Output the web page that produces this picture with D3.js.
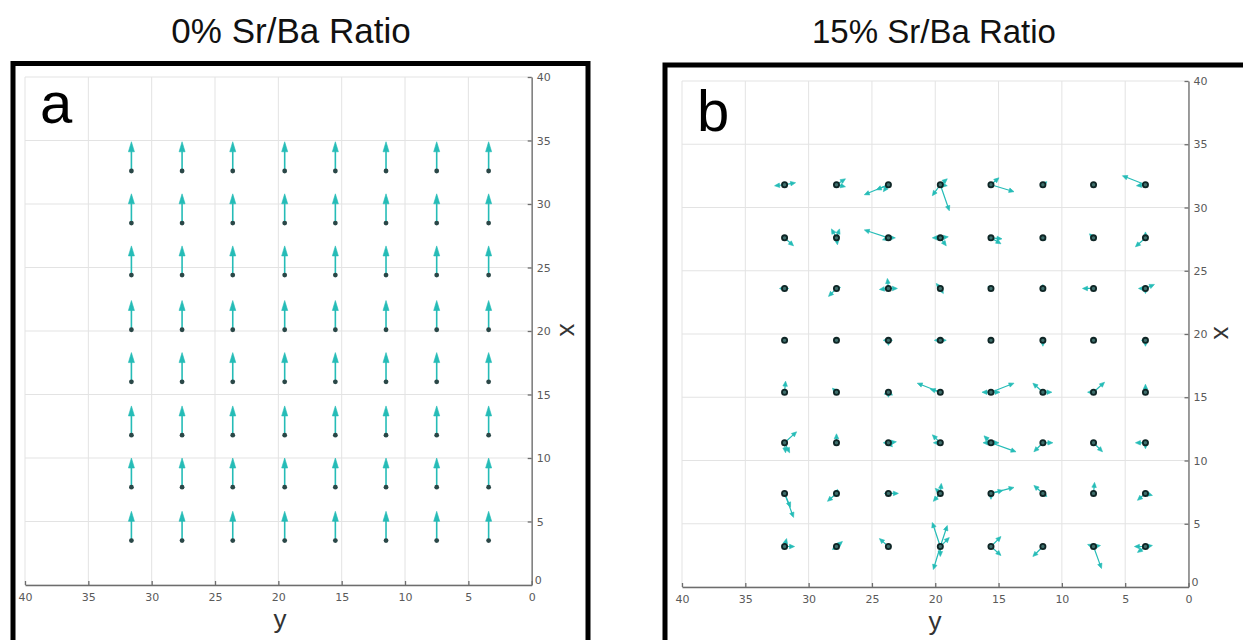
<!DOCTYPE html>
<html>
<head>
<meta charset="utf-8">
<script src="https://cdn.jsdelivr.net/npm/d3@7"></script>
<style>
  html, body { margin: 0; padding: 0; background: #fff; }
  svg { display: block; }
</style>
</head>
<body>
<svg id="chart" width="1243" height="640"></svg>
<script>
// ---------------- DATA ----------------
const titles = ["0% Sr/Ba Ratio", "15% Sr/Ba Ratio"];
const panelLetters = ["a", "b"];
const tickValues = [0, 5, 10, 15, 20, 25, 30, 35, 40];
const tickLabels = ["0", "5", "10", "15", "20", "25", "30", "35", "40"];

// Panel a: lattice sites (y = horizontal axis, x = vertical axis)
const colsA = [31.6, 27.6, 23.6, 19.5, 15.5, 11.5, 7.5, 3.4];
const rowsA = [32.6, 28.5, 24.4, 20.1, 16.0, 11.8, 7.7, 3.5];
// polarization length along +x for each row (all arrows point up)
const arrowLenA = [2.3, 2.3, 2.3, 2.3, 2.3, 2.3, 2.3, 2.3];

// Panel b: lattice sites
const colsB = [31.9, 27.8, 23.7, 19.6, 15.6, 11.5, 7.5, 3.4];
const rowsB = [31.8, 27.6, 23.6, 19.5, 15.4, 11.4, 7.4, 3.2];
// arrows: [row index, col index, dY (horizontal axis units), dX (vertical axis units)]
const arrowsB = [
  [0,0,0.79,-0.08],[0,0,-0.87,0.16],
  [0,1,-0.71,0.47],[0,1,-0.71,-0.16],
  [0,2,1.9,-0.79],[0,2,0.95,-0.4],[0,2,0.4,-0.55],
  [0,3,-0.71,-2.06],[0,3,0.63,-0.87],[0,3,-0.55,0.47],[0,3,-0.55,-0.08],
  [0,4,-1.82,-0.55],[0,4,-0.63,0.55],
  [0,5,-0.32,0.24],
  [0,6,0,-0.24],
  [0,7,1.82,0.71],[0,7,0.71,-0.08],
  [1,0,-0.71,-0.63],
  [1,1,0.4,0.71],[1,1,-0.24,0.71],[1,1,-0.08,-0.55],
  [1,2,1.9,0.63],[1,2,-0.55,0],[1,2,0.47,-0.16],
  [1,3,0.63,0],[1,3,-0.63,0.08],[1,3,-0.47,-0.63],
  [1,4,-0.87,-0.08],[1,4,-0.79,-0.47],
  [1,5,-0.24,-0.16],
  [1,6,0.32,0.32],
  [1,7,0.79,-0.71],[1,7,0,0.47],
  [2,0,0.4,0],[2,0,-0.32,0],
  [2,1,0.63,-0.63],[2,1,-0.32,0.08],
  [2,2,0.08,0.79],[2,2,0.71,-0.08],[2,2,-0.71,0],
  [2,3,0.32,0.4],[2,3,-0.24,-0.4],
  [2,4,0.24,0.16],
  [2,5,0,0.32],
  [2,6,0.87,0],
  [2,7,-0.71,0.32],[2,7,0.55,0],[2,7,0,-0.4],
  [3,0,0,-0.16],
  [3,1,0.24,0],
  [3,2,0.4,0],[3,2,-0.32,0],[3,2,0,-0.4],
  [3,3,0.47,0],[3,3,-0.47,0],
  [3,4,0.24,0],[3,4,-0.24,0],
  [3,5,0,-0.47],
  [3,6,-0.16,-0.08],
  [3,7,0,-0.47],[3,7,0.32,0],
  [4,0,-0.08,0.87],
  [4,1,0.32,0.32],
  [4,2,0.32,-0.16],[4,2,-0.32,-0.24],[4,2,0,-0.4],
  [4,3,1.82,0.71],[4,3,0.79,0.24],
  [4,4,-1.82,0.71],[4,4,0.71,0],[4,4,-0.71,0],
  [4,5,0.79,0.71],[4,5,-0.71,0],
  [4,6,-0.87,0.79],[4,6,0.47,0],
  [4,7,0,0.63],
  [5,0,-0.95,0.87],[5,0,-0.08,-0.79],[5,0,-0.4,-0.79],
  [5,1,0,0.71],
  [5,2,-0.63,0.08],[5,2,0.4,0],[5,2,-0.32,-0.32],
  [5,3,0.63,0.63],[5,3,0.55,0],
  [5,4,-1.98,-0.71],[5,4,0.55,0.55],[5,4,0.63,0],[5,4,-0.63,0],
  [5,5,0.71,-0.71],[5,5,-0.79,0],
  [5,6,-0.71,-0.71],[5,6,0.16,0.16],
  [5,7,0.79,0],[5,7,0,-0.47],
  [6,0,-0.71,-1.9],[6,0,-0.47,-1.1],
  [6,1,0.71,-0.63],[6,1,-0.08,0.32],
  [6,2,-0.79,0],[6,2,0.32,0],
  [6,3,-0.08,0.79],[6,3,0.4,0.4],[6,3,0.55,-0.63],
  [6,4,-1.82,0.47],[6,4,-0.95,0.24],[6,4,0,-0.47],
  [6,5,0.71,0.63],[6,5,-0.32,-0.24],
  [6,6,-0.08,0.87],
  [6,7,0.63,-0.55],[6,7,-0.55,-0.16],
  [7,0,-0.16,0.63],[7,0,-0.79,0],
  [7,1,-0.47,0.4],[7,1,0.32,-0.24],
  [7,2,0.71,0.63],
  [7,3,0.63,1.9],[7,3,-0.55,1.66],[7,3,0.55,-1.82],[7,3,-0.71,0.71],[7,3,0,-0.79],
  [7,4,-0.79,0.79],[7,4,-0.79,-0.71],
  [7,5,0.79,-0.79],
  [7,6,-0.63,-1.74],[7,6,0.47,0.16],[7,6,-0.55,0.08],
  [7,7,0.87,0],[7,7,0.63,-0.47],[7,7,-0.55,0.08]
];

// ---------------- DRAWING ----------------
const svg = d3.select("#chart");
const teal = "#25bcb7";
const dotDark = "#0f2626";

const panels = [
  { frame: {x: 13, y: 63.5}, xr: [25, 531.7], yr: [585, 77], title: {x: 291, y: 43}, titleSize: 35,
    letter: {x: 40, y: 123}, ylab: {x: 280, y: 628}, xlab: {x: 569, y: 330} },
  { frame: {x: 665, y: 65}, xr: [682, 1188.5], yr: [587, 81], title: {x: 934, y: 43}, titleSize: 33,
    letter: {x: 697, y: 131}, ylab: {x: 935, y: 630}, xlab: {x: 1223, y: 333} }
];

panels.forEach((p, i) => {
  const g = svg.append("g");
  const sx = d3.scaleLinear().domain([40, 0]).range(p.xr);
  const sy = d3.scaleLinear().domain([0, 40]).range(p.yr);
  p.sx = sx; p.sy = sy;

  // title
  svg.append("text").attr("x", p.title.x).attr("y", p.title.y)
    .attr("text-anchor", "middle").attr("font-family", "Liberation Sans, Arial, sans-serif")
    .attr("font-size", p.titleSize).attr("fill", "#111").text(titles[i]);

  // frame
  g.append("rect").attr("x", p.frame.x).attr("y", p.frame.y)
    .attr("width", i === 0 ? 575 : 640).attr("height", 640)
    .attr("fill", "none").attr("stroke", "#000").attr("stroke-width", 5);

  // grid
  g.append("g").selectAll("line.v").data(tickValues).join("line")
    .attr("x1", d => sx(d)).attr("x2", d => sx(d))
    .attr("y1", sy(0)).attr("y2", sy(40))
    .attr("stroke", "#e3e3e3").attr("stroke-width", 1);
  g.append("g").selectAll("line.h").data(tickValues).join("line")
    .attr("y1", d => sy(d)).attr("y2", d => sy(d))
    .attr("x1", sx(40)).attr("x2", sx(0))
    .attr("stroke", "#e3e3e3").attr("stroke-width", 1);

  // axes (bottom, ticks inward; right, ticks inward)
  const bottom = d3.axisBottom(sx).tickValues(tickValues).tickFormat(d => tickLabels[tickValues.indexOf(d)])
    .tickSizeInner(-4).tickSizeOuter(0).tickPadding(8);
  const right = d3.axisRight(sy).tickValues(tickValues.filter(v => v > 0)).tickFormat(d => tickLabels[tickValues.indexOf(d)])
    .tickSizeInner(-4).tickSizeOuter(0).tickPadding(5);
  const gb = g.append("g").attr("transform", `translate(0,${sy(0)})`).call(bottom);
  const gr = g.append("g").attr("transform", `translate(${sx(0)},0)`).call(right);
  [gb, gr].forEach(ax => {
    ax.select(".domain").attr("stroke", "#6d6d6d").attr("stroke-width", 1.3);
    ax.selectAll(".tick line").attr("stroke", "#6d6d6d").attr("stroke-width", 1.3);
    ax.selectAll(".tick text").attr("fill", "#5a5a5a").attr("font-size", 11)
      .attr("font-family", "DejaVu Sans, sans-serif");
  });
  // extra zero label on right axis (slightly raised)
  g.append("text").attr("x", sx(0) + 3).attr("y", sy(0) - 1)
    .attr("font-family", "DejaVu Sans, sans-serif").attr("font-size", 11).attr("fill", "#5a5a5a")
    .text(tickLabels[0]);

  // axis labels
  g.append("text").attr("x", p.ylab.x).attr("y", p.ylab.y).attr("text-anchor", "middle")
    .attr("font-family", "Liberation Sans, Arial, sans-serif").attr("font-size", 26).attr("fill", "#333").text("y");
  g.append("text").attr("transform", `translate(${p.xlab.x},${p.xlab.y}) rotate(90)`)
    .attr("text-anchor", "middle").attr("dominant-baseline", "central")
    .attr("font-family", "Liberation Sans, Arial, sans-serif").attr("font-size", 26).attr("fill", "#333").text("x");

  // panel letter
  g.append("text").attr("x", p.letter.x).attr("y", p.letter.y)
    .attr("font-family", "Liberation Sans, Arial, sans-serif").attr("font-size", 58).attr("fill", "#000")
    .text(panelLetters[i]);
});

function arrow(g, x1, y1, x2, y2, headLen, headW, sw) {
  const dx = x2 - x1, dy = y2 - y1;
  const L = Math.hypot(dx, dy);
  if (L < 0.5) return;
  const ux = dx / L, uy = dy / L;
  const hl = Math.min(headLen, L * 0.8);
  const bx = x2 - ux * hl, by = y2 - uy * hl;
  g.append("line").attr("x1", x1).attr("y1", y1).attr("x2", bx).attr("y2", by)
    .attr("stroke", teal).attr("stroke-width", sw).attr("stroke-linecap", "round");
  const px = -uy * headW / 2, py = ux * headW / 2;
  g.append("path").attr("d", `M${x2},${y2}L${bx + px},${by + py}L${bx - px},${by - py}Z`)
    .attr("fill", teal).attr("stroke", teal).attr("stroke-width", 0.6);
}

// ---- Panel a marks ----
{
  const p = panels[0];
  const g = svg.append("g");
  rowsA.forEach((xv, r) => {
    colsA.forEach((yv, c) => {
      const x0 = p.sx(yv), y0 = p.sy(xv);
      arrow(g, x0, y0, x0, p.sy(xv + arrowLenA[r]), 10, 6, 1.6);
    });
  });
  const sites = [];
  rowsA.forEach(xv => colsA.forEach(yv => sites.push([yv, xv])));
  g.selectAll("circle").data(sites).join("circle")
    .attr("cx", d => p.sx(d[0])).attr("cy", d => p.sy(d[1])).attr("r", 2.4)
    .attr("fill", "#2a4747");
}

// ---- Panel b marks ----
{
  const p = panels[1];
  const g = svg.append("g");
  arrowsB.forEach(([r, c, dY, dX]) => {
    const yv = colsB[c], xv = rowsB[r];
    arrow(g, p.sx(yv), p.sy(xv), p.sx(yv + dY), p.sy(xv + dX), 5, 4.5, 1.2);
  });
  const sites = [];
  rowsB.forEach(xv => colsB.forEach(yv => sites.push([yv, xv])));
  g.selectAll("circle").data(sites).join("circle")
    .attr("cx", d => p.sx(d[0])).attr("cy", d => p.sy(d[1])).attr("r", 2.6)
    .attr("fill", "#3f6f6c").attr("stroke", dotDark).attr("stroke-width", 1.8);
}
</script>
</body>
</html>
